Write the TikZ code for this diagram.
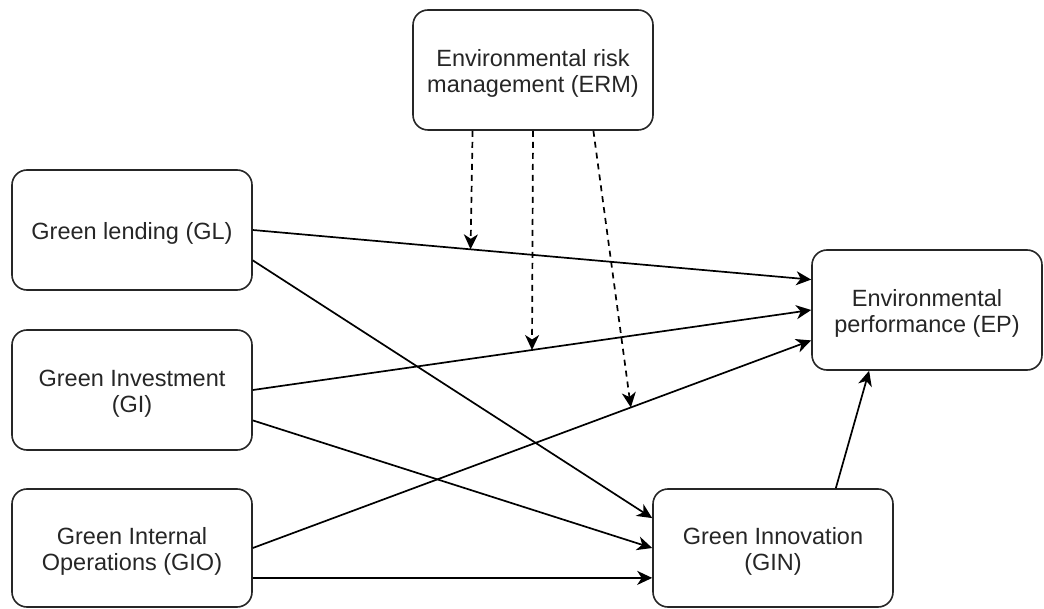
\documentclass[tikz,border=0pt]{standalone}
\usepackage{fontspec}
\setmainfont{Liberation Sans}
\usetikzlibrary{arrows.meta,calc}
\definecolor{txt}{HTML}{262626}
\tikzset{
  box/.style={draw=black!85, line width=1.6pt, rounded corners=15pt, fill=white,
    minimum width=240pt, minimum height=120pt, inner sep=0pt},
  lbl/.style={align=center, inner sep=0pt, yshift=-3.5pt, text=txt,
    font=\fontsize{23.5}{26}\selectfont},
  link/.style={line width=1.7pt, draw=black, -{Stealth[length=15pt,width=14pt,inset=4.5pt]}},
  modlink/.style={link, dash pattern=on 6pt off 5pt},
}
\begin{document}
\begin{tikzpicture}[x=1pt,y=-1pt]
\useasboundingbox (0,0) rectangle (1044,609);
\node[box, label={[lbl]center:Environmental risk\\management (ERM)}] (ERM) at (533,70) {};
\node[box, label={[lbl]center:Green lending (GL)}] (GL) at (132,230) {};
\node[box, label={[lbl]center:Green Investment\\(GI)}] (GI) at (132,390) {};
\node[box, minimum height=118pt, label={[lbl]center:Green Internal\\Operations (GIO)}] (GIO) at (132,548) {};
\node[box, minimum width=230pt, label={[lbl]center:Environmental\\performance (EP)}] (EP) at (927,310) {};
\node[box, minimum height=118pt, label={[lbl]center:Green Innovation\\(GIN)}] (GIN) at (773,548) {};

\coordinate (glA) at (GL.east);
\coordinate (glB) at ($(GL.east)!0.5!(GL.south east)$);
\coordinate (giA) at (GI.east);
\coordinate (giB) at ($(GI.east)!0.5!(GI.south east)$);
\coordinate (gioA) at (GIO.east);
\coordinate (gioB) at ($(GIO.east)!0.5!(GIO.south east)$);
\coordinate (epA) at ($(EP.north west)!0.25!(EP.south west)$);
\coordinate (epB) at (EP.west);
\coordinate (epC) at ($(EP.north west)!0.75!(EP.south west)$);
\coordinate (epD) at ($(EP.south west)!0.25!(EP.south east)$);
\coordinate (ginA) at ($(GIN.north west)!0.25!(GIN.south west)$);
\coordinate (ginB) at (GIN.west);
\coordinate (ginC) at ($(GIN.north west)!0.75!(GIN.south west)$);
\coordinate (ginD) at ($(GIN.north west)!0.76!(GIN.north east)$);
\coordinate (ermA) at ($(ERM.south west)!0.25!(ERM.south east)$);
\coordinate (ermB) at (ERM.south);
\coordinate (ermC) at ($(ERM.south west)!0.75!(ERM.south east)$);
\coordinate (mA) at ($(glA)!0.39!(epA)$);
\coordinate (mB) at ($(giA)!0.5!(epB)$);
\coordinate (mC) at ($(gioA)!0.677!(epC)$);

\draw[link] (glA) -- (epA);
\draw[link] (glB) -- (ginA);
\draw[link] (giA) -- (epB);
\draw[link] (giB) -- (ginB);
\draw[link] (gioA) -- (epC);
\draw[link] (gioB) -- (ginC);
\draw[link] (ginD) -- (epD);
\draw[modlink] (ermA) -- (mA);
\draw[modlink] (ermB) -- (mB);
\draw[modlink] (ermC) -- (mC);
\end{tikzpicture}
\end{document}
